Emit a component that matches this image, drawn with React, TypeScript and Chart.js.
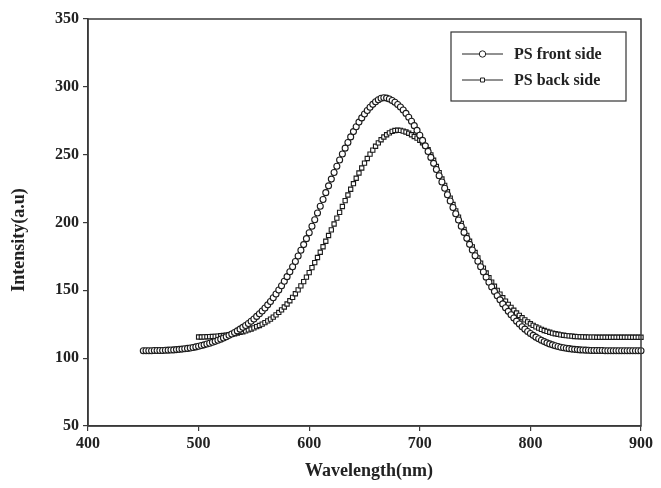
import React, { useEffect, useRef } from "react";
import { Chart, registerables } from "chart.js";

Chart.register(...registerables);

// Wavelength grid (nm) of each series: start value and sampling step
const FRONT_START = 450;
const BACK_START = 500;
const WAVELENGTH_STEP = 2.5;

// PS front side intensity, 450 .. 900 nm every 2.5 nm (rows of 25 nm)
const frontSide: number[] = [
  105.5, 105.5, 105.5, 105.5, 105.6, 105.6, 105.7, 105.7, 105.8, 105.9,
  106.0, 106.1, 106.3, 106.5, 106.7, 106.9, 107.2, 107.5, 107.9, 108.3,
  108.8, 109.3, 109.8, 110.4, 111.0, 111.7, 112.4, 113.2, 114.0, 114.9,
  115.8, 116.8, 117.8, 118.9, 120.1, 121.4, 122.7, 124.1, 125.6, 127.2,
  128.9, 130.8, 132.7, 134.8, 137.0, 139.3, 141.8, 144.5, 147.3, 150.3,
  153.4, 156.7, 160.1, 163.7, 167.4, 171.3, 175.3, 179.5, 183.7, 188.1,
  192.5, 197.2, 202.0, 207.0, 212.0, 217.0, 222.0, 227.0, 232.0, 236.8,
  241.5, 246.1, 250.5, 254.8, 259.0, 263.1, 267.0, 270.6, 274.0, 277.1,
  280.0, 282.6, 285.0, 287.1, 289.0, 290.5, 291.6, 292.0, 291.7, 291.0,
  289.9, 288.6, 287.0, 285.1, 282.9, 280.4, 277.6, 274.6, 271.4, 267.9,
  264.3, 260.5, 256.5, 252.3, 248.0, 243.6, 239.1, 234.5, 229.9, 225.2,
  220.5, 215.8, 211.1, 206.4, 201.8, 197.2, 192.7, 188.3, 183.9, 179.7,
  175.5, 171.4, 167.4, 163.5, 159.7, 156.0, 152.5, 149.2, 146.0, 143.0,
  140.0, 137.2, 134.5, 132.0, 129.6, 127.3, 125.2, 123.2, 121.4, 119.7,
  118.2, 116.8, 115.5, 114.3, 113.2, 112.2, 111.3, 110.5, 109.8, 109.2,
  108.6, 108.1, 107.7, 107.3, 107.0, 106.7, 106.5, 106.3, 106.1, 106.0,
  105.9, 105.8, 105.7, 105.7, 105.6, 105.6, 105.6, 105.5, 105.5, 105.5,
  105.5, 105.5, 105.5, 105.5, 105.5, 105.5, 105.5, 105.5, 105.5, 105.5,
  105.5,
];

// PS back side intensity, 500 .. 900 nm every 2.5 nm (rows of 25 nm)
const backSide: number[] = [
  115.6, 115.6, 115.7, 115.8, 115.9, 116.0, 116.1, 116.3, 116.5, 116.7,
  117.0, 117.3, 117.6, 118.0, 118.5, 119.0, 119.5, 120.1, 120.8, 121.5,
  122.3, 123.2, 124.1, 125.1, 126.2, 127.5, 128.8, 130.3, 131.9, 133.7,
  135.6, 137.7, 139.9, 142.3, 144.8, 147.5, 150.3, 153.3, 156.4, 159.7,
  163.1, 166.7, 170.4, 174.2, 178.1, 182.1, 186.2, 190.4, 194.6, 198.9,
  203.2, 207.5, 211.8, 216.1, 220.3, 224.5, 228.6, 232.6, 236.5, 240.2,
  243.8, 247.2, 250.4, 253.4, 256.2, 258.7, 261.0, 263.0, 264.7, 266.1,
  267.2, 267.8, 268.0, 267.9, 267.4, 266.7, 265.8, 264.7, 263.4, 262.2,
  260.6, 258.8, 256.7, 253.6, 249.9, 245.9, 241.3, 236.8, 232.1, 227.4,
  222.7, 218.0, 213.3, 208.6, 204.0, 199.4, 194.9, 190.5, 186.2, 182.0,
  177.9, 173.9, 170.1, 166.4, 162.8, 159.4, 156.1, 153.0, 150.0, 147.2,
  144.5, 142.0, 139.6, 137.4, 135.3, 133.3, 131.5, 129.8, 128.2, 126.7,
  125.4, 124.2, 123.1, 122.1, 121.2, 120.4, 119.7, 119.1, 118.5, 118.0,
  117.6, 117.2, 116.9, 116.6, 116.4, 116.2, 116.0, 115.9, 115.8, 115.7,
  115.6, 115.5, 115.5, 115.5, 115.4, 115.4, 115.4, 115.4, 115.4, 115.4,
  115.4, 115.4, 115.4, 115.4, 115.4, 115.4, 115.4, 115.4, 115.4, 115.4,
  115.4,
];

const seriesLabels = ["PS front side", "PS back side"];
const xTicks = [400, 500, 600, 700, 800, 900];
const yTicks = [50, 100, 150, 200, 250, 300, 350];
const xTitle = "Wavelength(nm)";
const yTitle = "Intensity(a.u)";

const FONT = "'Liberation Serif', 'Times New Roman', serif";
const INK = "#222";
const AXIS = "#3a3a3a";

const toPoints = (start: number, ys: number[]) =>
  ys.map((y, i) => ({ x: start + i * WAVELENGTH_STEP, y }));

const framePlugin = {
  id: "frameAndText",
  afterDraw(chart: any) {
    const { ctx, chartArea } = chart;
    const { left, right, top, bottom } = chartArea;
    ctx.save();
    // plot frame
    ctx.strokeStyle = AXIS;
    ctx.lineWidth = 1.5;
    ctx.strokeRect(left, top, right - left, bottom - top);

    // axis titles
    ctx.fillStyle = INK;
    ctx.font = `bold 18px ${FONT}`;
    ctx.textAlign = "center";
    ctx.textBaseline = "middle";
    ctx.fillText(xTitle, 369, 471);
    ctx.save();
    ctx.translate(19, 240);
    ctx.rotate(-Math.PI / 2);
    ctx.fillText(yTitle, 0, 0);
    ctx.restore();

    // legend
    const bx = 451, by = 32, bw = 175, bh = 69;
    ctx.strokeStyle = "#333";
    ctx.lineWidth = 1.2;
    ctx.fillStyle = "#fff";
    ctx.fillRect(bx, by, bw, bh);
    ctx.strokeRect(bx, by, bw, bh);
    const rows = [54, 80];
    chart.data.datasets.forEach((ds: any, i: number) => {
      const y = rows[i];
      ctx.strokeStyle = "#222";
      ctx.lineWidth = 1;
      ctx.beginPath();
      ctx.moveTo(462, y);
      ctx.lineTo(503, y);
      ctx.stroke();
      ctx.fillStyle = "#fff";
      ctx.beginPath();
      if (ds.pointStyle === "circle") {
        ctx.arc(482.5, y, 3.2, 0, Math.PI * 2);
      } else {
        ctx.rect(480.5, y - 2, 4, 4);
      }
      ctx.fill();
      ctx.stroke();
      ctx.fillStyle = INK;
      ctx.font = `bold 16px ${FONT}`;
      ctx.textAlign = "left";
      ctx.textBaseline = "middle";
      ctx.fillText(ds.label, 514, y + 1);
    });
    ctx.restore();
  },
};

export default function App() {
  const ref = useRef<HTMLCanvasElement | null>(null);

  useEffect(() => {
    if (!ref.current) return;
    const chart = new Chart(ref.current, {
      type: "scatter",
      data: {
        datasets: [
          {
            label: seriesLabels[0],
            data: toPoints(FRONT_START, frontSide),
            showLine: true,
            borderColor: "#222",
            borderWidth: 1,
            pointStyle: "circle",
            pointRadius: 3,
            pointBorderWidth: 1.1,
            pointBorderColor: "#1a1a1a",
            pointBackgroundColor: "#fff",
            clip: false,
          } as any,
          {
            label: seriesLabels[1],
            data: toPoints(BACK_START, backSide),
            showLine: true,
            borderColor: "#222",
            borderWidth: 1,
            pointStyle: "rect",
            pointRadius: 3,
            pointBorderWidth: 1.1,
            pointBorderColor: "#1a1a1a",
            pointBackgroundColor: "#fff",
            clip: false,
          } as any,
        ],
      },
      options: {
        animation: false,
        responsive: false,
        devicePixelRatio: 1,
        layout: { padding: { left: 0, right: 20, top: 19, bottom: 0 } },
        plugins: {
          legend: { display: false },
          tooltip: { enabled: false },
          title: { display: false },
        },
        scales: {
          x: {
            type: "linear",
            min: 400,
            max: 900,
            afterBuildTicks: (s: any) => {
              s.ticks = xTicks.map((v) => ({ value: v }));
            },
            afterFit: (s: any) => {
              s.height = 62;
            },
            ticks: {
              color: INK,
              font: { family: FONT, size: 16, weight: "bold" },
              padding: 3,
              maxRotation: 0,
            },
            grid: {
              drawOnChartArea: false,
              drawTicks: true,
              tickLength: 5,
              color: AXIS,
              lineWidth: 1.2,
            },
            border: { display: true, color: AXIS, width: 1.5 },
          },
          y: {
            type: "linear",
            min: 50,
            max: 350,
            afterBuildTicks: (s: any) => {
              s.ticks = yTicks.map((v) => ({ value: v }));
            },
            afterFit: (s: any) => {
              s.width = 88;
            },
            ticks: {
              color: INK,
              font: { family: FONT, size: 16, weight: "bold" },
              padding: 4,
            },
            grid: {
              drawOnChartArea: false,
              drawTicks: true,
              tickLength: 5,
              color: AXIS,
              lineWidth: 1.2,
            },
            border: { display: true, color: AXIS, width: 1.5 },
          },
        },
      } as any,
      plugins: [framePlugin],
    });
    return () => chart.destroy();
  }, []);

  return (
    <div
      style={{
        position: "fixed",
        left: 0,
        top: 0,
        width: 661,
        height: 488,
        background: "#fff",
      }}
    >
      <canvas ref={ref} width={661} height={488} />
    </div>
  );
}
